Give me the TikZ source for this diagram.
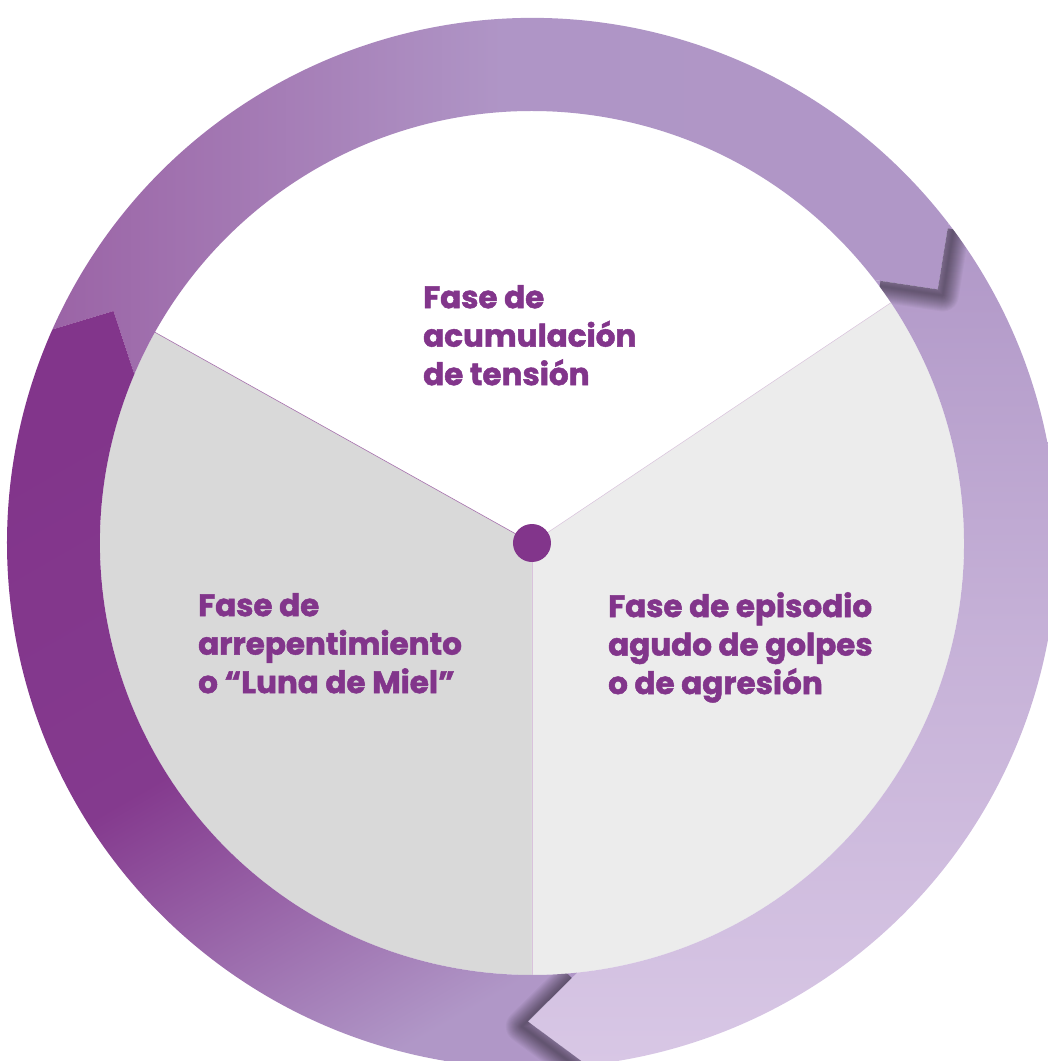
\documentclass[tikz,border=0pt]{standalone}
\usepackage{fontspec}
\setmainfont{Poppins}[BoldFeatures={FakeBold=1.6}]
\usetikzlibrary{calc}
\definecolor{moradoosc}{HTML}{82358B}
\definecolor{moradomed}{HTML}{9B64A6}
\definecolor{lilaosc}{HTML}{B097C7}
\definecolor{lilacla}{HTML}{D8C7E5}
\definecolor{grisizq}{HTML}{D9D9D9}
\definecolor{grisder}{HTML}{ECECEC}
\def\radin{432}
\def\radout{525}
\def\radmid{478.5}
\def\tramosup{(156:\radout) arc[start angle=156, end angle=37.5, radius=\radout] -- (32:\radmid) -- (37.5:\radin) arc[start angle=37.5, end angle=157, radius=\radin] -- (151:\radmid) -- cycle}
\def\tramoder{(37.5:\radout) arc[start angle=37.5, end angle=-84, radius=\radout] -- (-90.5:\radmid) -- (-84:\radin) arc[start angle=-84, end angle=37.5, radius=\radin] -- (32:\radmid) -- cycle}
\def\tramoizq{(276:\radout) arc[start angle=276, end angle=156, radius=\radout] -- (151:\radmid) -- (157:\radin) arc[start angle=157, end angle=276, radius=\radin] -- (269.5:\radmid) -- cycle}
\tikzset{fase/.style={anchor=north west, inner sep=0pt, align=left, text=moradoosc,
    font=\bfseries\fontsize{31}{38.5}\selectfont}}

\begin{document}
\begin{tikzpicture}[x=1pt, y=1pt]
			%%%%% START %%%%%
			\useasboundingbox (-532, -518) rectangle (516, 543);
			
			% disco
			\fill[white] (0, 0) -- (33.8:\radin) arc[start angle=33.8, end angle=150.8, radius=\radin] -- cycle;
			\fill[grisizq] (0, 0) -- (150.8:\radin) arc[start angle=150.8, end angle=270, radius=\radin] -- cycle;
			\fill[grisder] (0, 0) -- (-90:\radin) arc[start angle=-90, end angle=33.8, radius=\radin] -- cycle;
			
			\draw[line width=0.6pt, color=moradoosc!70] (0, 0) -- (150.8:\radin);
			\draw[line width=0.5pt, color=moradoosc!30] (0, 0) -- (33.8:\radin);
			\draw[line width=0.5pt, color=moradoosc!30] (0, 0) -- (-90:\radin);
			
			% anillo
			\shade[left color=moradomed, right color=lilaosc, middle color=lilaosc!96!moradomed] \tramosup;
			\shade[top color=lilaosc, bottom color=lilacla, middle color=lilaosc!45!lilacla] \tramoder;
			\shade[top color=moradoosc, bottom color=lilaosc, middle color=moradoosc!95!lilaosc, shading angle=30] \tramoizq;
			
			% sombras
			\begin{scope}
				\clip \tramoder;
				\foreach \w in {1,...,16}
					\draw[line width={2pt*\w}, black, opacity=0.03, line join=round, shift={(5, -6)}]
						(37.5:\radin) -- (32:\radmid) -- (37.5:\radout);
			\end{scope}
			\begin{scope}
				\clip \tramoizq;
				\foreach \w in {1,...,16}
					\draw[line width={2pt*\w}, black, opacity=0.03, line join=round, shift={(-6, -5)}]
						(-84:\radin) -- (-90.5:\radmid) -- (-84:\radout);
			\end{scope}
			
			\fill[moradoosc] (0, 0) circle (19);
			
			\node[fase] (acumul) at (-109, 258) {Fase de\\acumulación\\de tensión};
			\node[fase] (miel) at (-334, -50) {Fase de\\arrepentimiento\\o “Luna de Miel”};
			\node[fase] (golpes) at (76, -49) {Fase de episodio\\agudo de golpes\\o de agresión};
			
			%%%%% END %%%%%
		\end{tikzpicture}
\end{document}
